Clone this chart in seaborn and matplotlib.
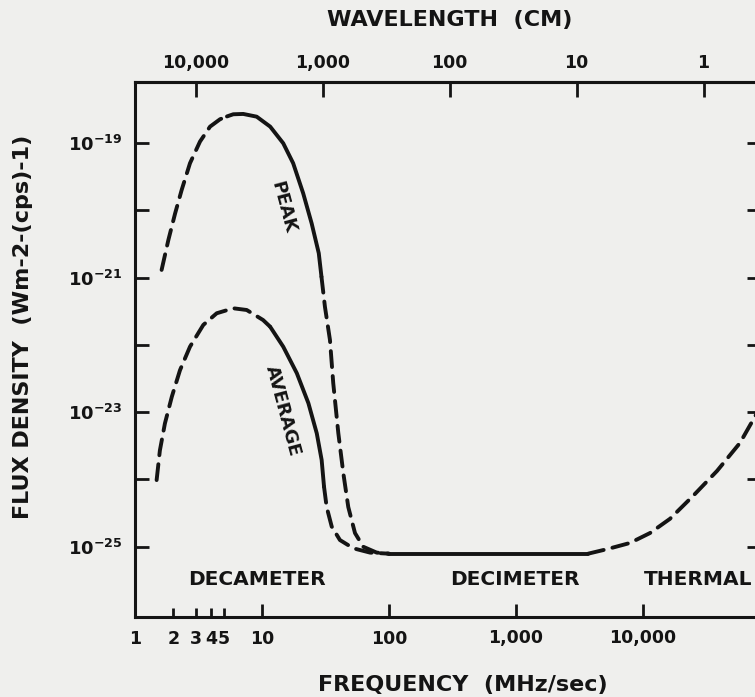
import matplotlib
matplotlib.use("Agg")
import matplotlib.pyplot as plt
from matplotlib.ticker import NullLocator
import pandas as pd
import seaborn as sns

# Jupiter radio spectrum: frequency in MHz, flux density in W m^-2 (c/s)^-1
peak_rise_freq = [1.62, 1.83, 2.07, 2.33, 2.71, 3.25, 3.90, 4.67, 5.30]
peak_rise_flux = [1.3e-21, 3.6e-21, 9.0e-21, 2.0e-20, 5.0e-20, 1.05e-19, 1.75e-19, 2.25e-19, 2.48e-19]
peak_core_freq = [5.30, 5.94, 7.12, 9.08, 11.6, 14.7, 17.6, 21.1, 24.6, 28.0, 29.4]
peak_core_flux = [2.48e-19, 2.67e-19, 2.70e-19, 2.46e-19, 1.75e-19, 9.9e-20, 5.0e-20,
                  1.79e-20, 6.4e-21, 2.3e-21, 1.03e-21]
peak_fall_freq = [29.4, 31.3, 34.3, 36.4, 39.9, 43.7, 47.8, 54.0, 62.8, 80.0, 100]
peak_fall_flux = [1.03e-21, 3.7e-22, 1.18e-22, 2.7e-23, 4.9e-24, 1.24e-24, 3.9e-25,
                  1.6e-25, 1.0e-25, 8.2e-26, 7.9e-26]

avg_rise_freq = [1.48, 1.57, 1.72, 1.95, 2.26, 2.71, 3.45, 4.40, 5.94, 7.58, 10.2, 11.6]
avg_rise_flux = [9.8e-25, 2.7e-24, 6.8e-24, 1.7e-23, 4.2e-23, 9.4e-23, 1.98e-22,
                 2.95e-22, 3.5e-22, 3.3e-22, 2.34e-22, 1.86e-22]
avg_core_freq = [11.6, 14.7, 18.8, 23.2, 27.0, 29.5, 30.8]
avg_core_flux = [1.86e-22, 9.4e-23, 3.8e-23, 1.36e-23, 4.85e-24, 1.95e-24, 7.8e-25]
avg_fall_freq = [30.8, 32.3, 35.4, 41.1, 52.4, 70.9, 100]
avg_fall_flux = [7.8e-25, 3.9e-25, 2.0e-25, 1.26e-25, 9.5e-26, 8.2e-26, 7.9e-26]

quiet_freq = [100, 3700]
quiet_flux = [7.9e-26, 7.9e-26]
thermal_freq = [3700, 5300, 7900, 11350, 16300, 24800, 38300, 58100, 79000]
thermal_flux = [7.9e-26, 9.3e-26, 1.14e-25, 1.6e-25, 2.6e-25, 5.7e-25, 1.34e-24, 3.5e-24, 9.7e-24]

freq_ticks = [1, 10, 100, 1000, 10000]
freq_tick_labels = ["1", "10", "100", "1,000", "10,000"]
freq_minor_ticks = [2, 3, 4, 5]
freq_minor_labels = ["2", "3", "4", "5"]
wave_ticks = [10000, 1000, 100, 10, 1]
wave_tick_labels = ["10,000", "1,000", "100", "10", "1"]
flux_ticks = [1e-19, 1e-20, 1e-21, 1e-22, 1e-23, 1e-24, 1e-25]
flux_tick_labels = [r"$\mathbf{10^{-19}}$", "", r"$\mathbf{10^{-21}}$", "",
                    r"$\mathbf{10^{-23}}$", "", r"$\mathbf{10^{-25}}$"]
region_labels = ["DECAMETER", "DECIMETER", "THERMAL"]

segments = [
    ("peak rise", peak_rise_freq, peak_rise_flux, True),
    ("peak core", peak_core_freq, peak_core_flux, False),
    ("peak fall", peak_fall_freq, peak_fall_flux, True),
    ("avg rise", avg_rise_freq, avg_rise_flux, True),
    ("avg core", avg_core_freq, avg_core_flux, False),
    ("avg fall", avg_fall_freq, avg_fall_flux, True),
    ("quiet", quiet_freq, quiet_flux, False),
    ("thermal", thermal_freq, thermal_flux, True),
]
df = pd.concat(
    [pd.DataFrame({"segment": name, "freq": f, "flux": s, "dashed": d})
     for name, f, s, d in segments],
    ignore_index=True,
)

sns.set_theme(style="white")
ink = "#141414"
paper = "#efefed"
plt.rcParams["font.family"] = ["DejaVu Sans"]
plt.rcParams["font.weight"] = "bold"
plt.rcParams["mathtext.fontset"] = "dejavusans"
plt.rcParams["lines.scale_dashes"] = False
plt.rcParams["text.color"] = ink
plt.rcParams["xtick.color"] = ink
plt.rcParams["ytick.color"] = ink

fig = plt.figure(figsize=(7.55, 6.97), dpi=100, facecolor=paper)
ax = fig.add_axes([135 / 755, 1 - 617 / 697, 622 / 755, 535 / 697])
ax.set_facecolor(paper)
ax.set_xscale("log")
ax.set_yscale("log")
ax.set_xlim(1, 10 ** 4.898)
ax.set_ylim(10 ** -26.043, 10 ** -18.094)

for name, sub in df.groupby("segment", sort=False):
    dashed = bool(sub["dashed"].iloc[0])
    style = dict(linestyle=(0, (11.5, 6.5)), dash_capstyle="round", dash_joinstyle="round") \
        if dashed else dict(linestyle="-", solid_capstyle="round", solid_joinstyle="round")
    sns.lineplot(data=sub, x="freq", y="flux", ax=ax, sort=False, estimator=None,
                 color=ink, linewidth=2.8, legend=False, **style)

ax.set_xlabel("")
ax.set_ylabel("")

for side in ["left", "bottom", "top", "right"]:
    ax.spines[side].set_visible(True)
    ax.spines[side].set_linewidth(2.2)
    ax.spines[side].set_color(ink)

# frequency axis (bottom)
ax.set_xticks(freq_ticks)
ax.set_xticklabels(freq_tick_labels)
ax.set_xticks(freq_minor_ticks, minor=True)
ax.set_xticklabels(freq_minor_labels, minor=True)
ax.tick_params(axis="x", which="major", direction="in", length=9.5, width=2,
               pad=9, labelsize=12.5, top=False, bottom=True)
ax.tick_params(axis="x", which="minor", direction="in", length=6.5, width=2,
               pad=9, labelsize=12.5, top=False, bottom=True)

# flux axis (left, with plain ticks on the right)
ax.set_yticks(flux_ticks)
ax.set_yticklabels(flux_tick_labels)
ax.yaxis.set_minor_locator(NullLocator())
ax.tick_params(axis="y", which="major", direction="in", length=10, width=2,
               pad=9, labelsize=13, left=True, right=False)
right = ax.secondary_yaxis("right", functions=(lambda v: v, lambda v: v))
right.set_yticks(flux_ticks)
right.set_yticklabels([""] * len(flux_ticks))
right.yaxis.set_minor_locator(NullLocator())
right.tick_params(direction="in", length=7, width=2)
right.spines["right"].set_linewidth(2.2)

# wavelength axis (top): lambda[cm] = 3e4 / f[MHz]
top = ax.secondary_xaxis("top", functions=(lambda f: 3e4 / f, lambda l: 3e4 / l))
top.set_xticks(wave_ticks)
top.set_xticklabels(wave_tick_labels)
top.xaxis.set_minor_locator(NullLocator())
top.tick_params(direction="in", length=11, width=2, pad=7, labelsize=12.5)
top.spines["top"].set_linewidth(2.2)

label_font = dict(fontsize=16, fontweight="bold", color=ink)
fig.text(450 / 755, 1 - 20 / 697, "WAVELENGTH  (CM)", ha="center", va="center", **label_font)
fig.text(463 / 755, 1 - 685 / 697, "FREQUENCY  (MHz/sec)", ha="center", va="center", **label_font)
fig.text(23 / 755, 1 - 327 / 697, "FLUX DENSITY  (Wm-2-(cps)-1)", ha="center", va="center",
         rotation=90, **label_font)

for text, xf in zip(region_labels, [0.196, 0.611, 0.905]):
    ax.text(xf, 0.071, text, transform=ax.transAxes, ha="center", va="center",
            fontsize=14.5, fontweight="bold", color=ink)

ax.text(283 / 755, 1 - 207 / 697, "PEAK", transform=fig.transFigure, rotation=-75,
        ha="center", va="center", rotation_mode="anchor", fontsize=13, fontweight="bold", color=ink)
ax.text(283 / 755, 1 - 411 / 697, "AVERAGE", transform=fig.transFigure, rotation=-75,
        ha="center", va="center", rotation_mode="anchor", fontsize=13, fontweight="bold", color=ink)

fig.savefig("out.png", dpi=100, facecolor=paper)
